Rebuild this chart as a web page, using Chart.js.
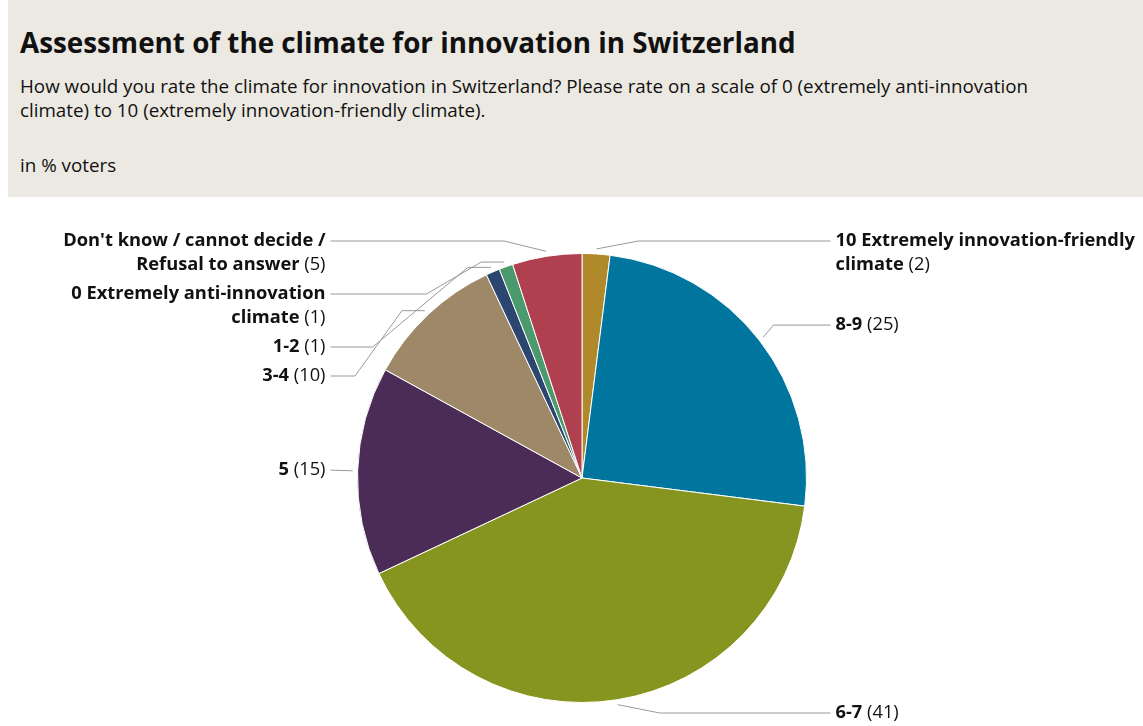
<!DOCTYPE html>
<html>
<head>
<meta charset="utf-8">
<title>Assessment of the climate for innovation in Switzerland</title>
<script src="https://cdn.jsdelivr.net/npm/chart.js@4.4.1/dist/chart.umd.min.js"></script>
<style>
  body { margin: 0; width: 1143px; height: 726px; overflow: hidden; background: #fff; font-family: "Open Sans", sans-serif; color: #111; }
  .header { position: absolute; left: 8px; top: 0; width: 1135px; height: 197px; background: #ece9e2; }
  .header h1 { position: absolute; left: 12px; top: 25px; margin: 0; font-size: 27.8px; line-height: 34px; font-weight: 700; white-space: nowrap; }
  .header .question { position: absolute; left: 12px; top: 74px; margin: 0; font-size: 18.8px; line-height: 24px; white-space: nowrap; }
  .header .unit { position: absolute; left: 12px; top: 153px; margin: 0; font-size: 18.8px; line-height: 24px; }
  .chart-box { position: absolute; left: 0; top: 197px; width: 1143px; height: 529px; }
</style>
</head>
<body>
<div class="header">
  <h1>Assessment of the climate for innovation in Switzerland</h1>
  <p class="question">How would you rate the climate for innovation in Switzerland? Please rate on a scale of 0 (extremely anti-innovation<br>climate) to 10 (extremely innovation-friendly climate).</p>
  <p class="unit">in % voters</p>
</div>
<div class="chart-box"><canvas id="pie"></canvas></div>

<script>
// slices run clockwise from 12 o'clock
const categories = [
  ['10 Extremely innovation-friendly', 'climate'],
  ['8-9'],
  ['6-7'],
  ['5'],
  ['3-4'],
  ['1-2'],
  ['0 Extremely anti-innovation', 'climate'],
  ["Don't know / cannot decide /", 'Refusal to answer']
];
const shares = [2, 25, 41, 15, 10, 1, 1, 5];
const sliceColors = ['#b0892a', '#00769f', '#86951f', '#4b2c56', '#9e8868', '#2d4670', '#4a9a6e', '#b0404f'];

const LINE = 24;
const labelFont = '18.3px "Open Sans", sans-serif';
const labelBold = 'bold 18.3px "Open Sans", sans-serif';

// labels outside the pie with bent connector lines
const leaderLabels = {
  id: 'leaderLabels',
  afterDatasetsDraw(chart) {
    const ctx = chart.ctx;
    const area = chart.chartArea;
    const arcs = chart.getDatasetMeta(0).data;

    const items = arcs.map((arc, i) => {
      const mid = (arc.startAngle + arc.endAngle) / 2;
      const r = arc.outerRadius;
      return {
        i: i,
        left: Math.cos(mid) < 0,
        lines: categories[i],
        cx: arc.x, cy: arc.y, r: r,
        tx: arc.x + (r + 5) * Math.cos(mid),
        ty: arc.y + (r + 5) * Math.sin(mid),
        y: arc.y + (r + 25) * Math.sin(mid),
        h: categories[i].length * LINE + 5
      };
    });

    // keep labels on each side from overlapping
    const top = area.top - 12, bottom = area.bottom + 10;
    [true, false].forEach(side => {
      const list = items.filter(it => it.left === side).sort((a, b) => a.y - b.y);
      let prev = top;
      list.forEach(it => { it.y = Math.max(it.y, prev); prev = it.y + it.h; });
      let next = bottom;
      for (let k = list.length - 1; k >= 0; k--) {
        const it = list[k];
        it.y = Math.min(it.y, next);
        next = it.y - (k > 0 ? list[k - 1].h : 0);
      }
    });

    ctx.save();
    items.forEach(it => {
      const { cx, cy, r } = it;
      const ax = it.left ? cx - r - 27 : cx + r + 24;
      const dy = it.y - cy;
      let crookX;
      if (Math.abs(dy) < r) {
        const edge = Math.sqrt(r * r - dy * dy);
        crookX = it.left ? cx - edge - 27 : cx + edge + 27;
      } else {
        crookX = it.left ? it.tx - 42 : it.tx + 42;
      }
      crookX = it.left ? Math.max(crookX, ax) : Math.min(crookX, ax);
      let bx = it.tx;
      if (Math.abs(it.y - it.ty) > 25) bx = it.left ? it.tx - 23 : it.tx + 23;

      ctx.strokeStyle = '#999';
      ctx.lineWidth = 1;
      ctx.beginPath();
      ctx.moveTo(ax, it.y);
      ctx.lineTo(crookX, it.y);
      ctx.lineTo(bx, it.ty);
      ctx.lineTo(it.tx, it.ty);
      ctx.stroke();

      // category name in bold, value in brackets in regular weight
      ctx.fillStyle = '#111';
      ctx.textBaseline = 'middle';
      const x = it.left ? ax - 5 : ax + 5;
      it.lines.forEach((txt, k) => {
        const ly = it.y + k * LINE;
        const last = k === it.lines.length - 1;
        const tail = last ? ' (' + shares[it.i] + ')' : '';
        ctx.font = labelFont;
        const tailW = ctx.measureText(tail).width;
        ctx.font = labelBold;
        const boldW = ctx.measureText(txt).width;
        if (it.left) {
          ctx.textAlign = 'right';
          ctx.fillText(txt, x - tailW, ly);
          ctx.font = labelFont;
          ctx.fillText(tail, x, ly);
        } else {
          ctx.textAlign = 'left';
          ctx.fillText(txt, x, ly);
          ctx.font = labelFont;
          ctx.fillText(tail, x + boldW, ly);
        }
      });
    });
    ctx.restore();
  }
};

new Chart(document.getElementById('pie'), {
  type: 'pie',
  data: {
    labels: categories.map(c => c.join(' ')),
    datasets: [{
      data: shares,
      backgroundColor: sliceColors,
      borderColor: '#ffffff',
      borderWidth: 1
    }]
  },
  options: {
    responsive: true,
    maintainAspectRatio: false,
    animation: false,
    layout: { padding: { top: 56, bottom: 23, left: 300, right: 279 } },
    plugins: {
      legend: { display: false },
      tooltip: { enabled: false }
    }
  },
  plugins: [leaderLabels]
});
</script>
</body>
</html>
